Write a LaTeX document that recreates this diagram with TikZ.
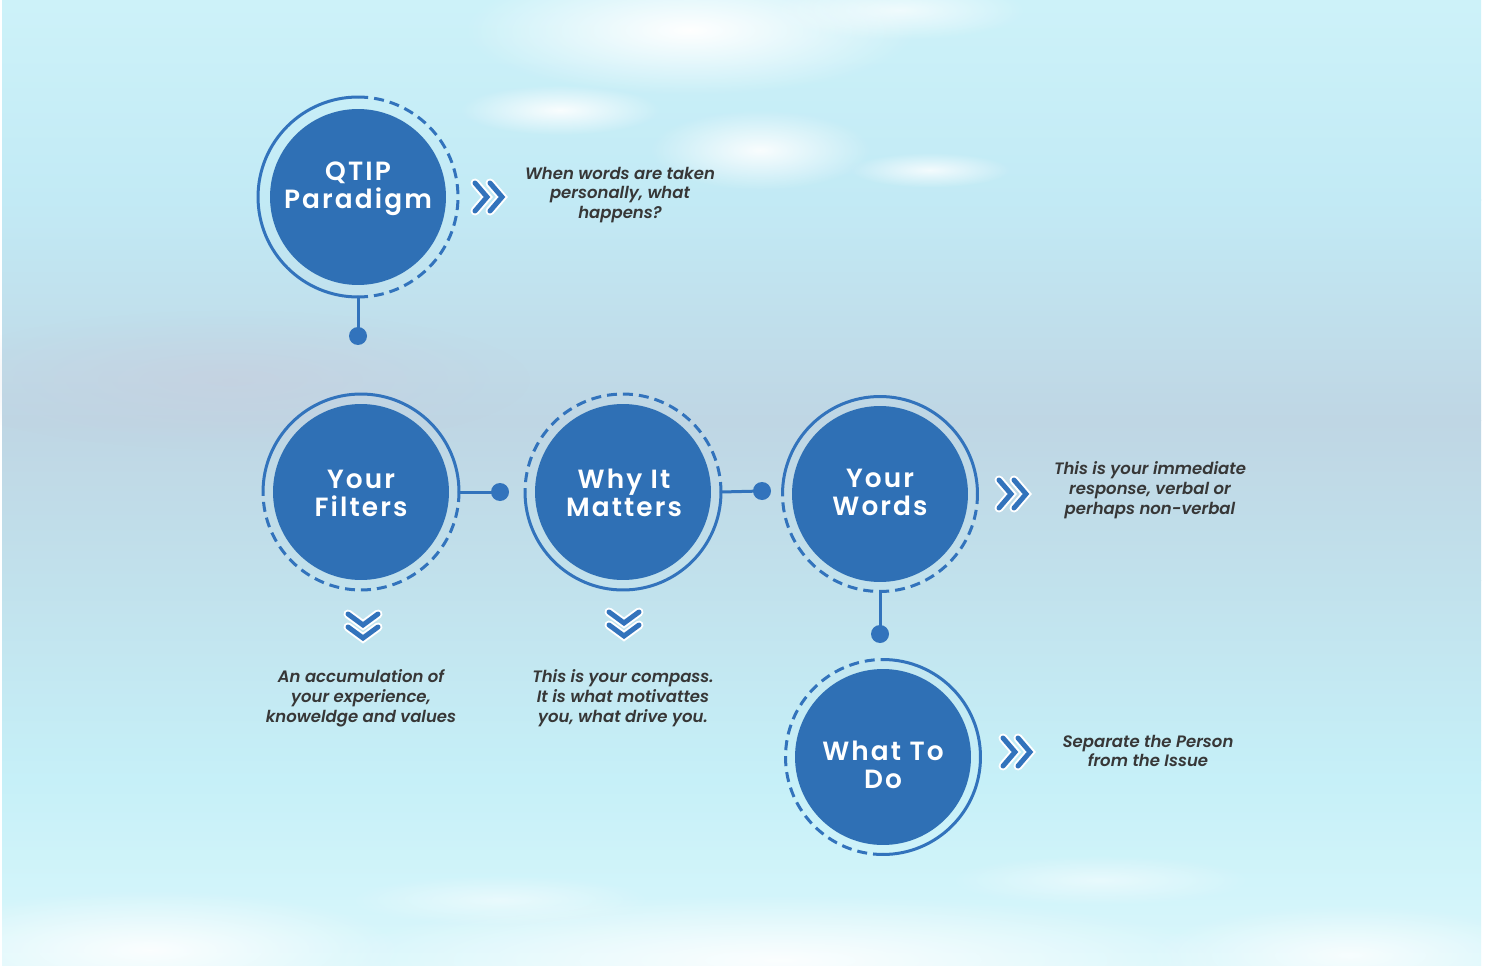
\documentclass[tikz,border=0pt]{standalone}
\usepackage{fontspec}
\setmainfont{Poppins}
\newfontfamily\descfont{Poppins SemiBold Italic}
\newfontfamily\circfont{Poppins SemiBold}[LetterSpace=8]
\usetikzlibrary{calc,fadings}
\definecolor{discblue}{RGB}{47,112,181}
\definecolor{ringblue}{RGB}{50,115,188}
\definecolor{txt}{RGB}{55,55,55}
\definecolor{bgA}{RGB}{205,242,249}
\definecolor{bgB}{RGB}{194,234,245}
\definecolor{bgC}{RGB}{191,214,228}
\definecolor{bgD}{RGB}{193,225,236}
\definecolor{bgE}{RGB}{198,240,248}
\definecolor{bgF}{RGB}{218,247,251}
\definecolor{pinkish}{RGB}{200,206,222}
\tikzfading[name=softblob, inner color=transparent!0, outer color=transparent!100]
\newcommand\mychevright[2]{%
  \foreach \dx in {-15,0}{%
    \draw[chevout] (#1+\dx,#2-14) -- (#1+\dx+12,#2) -- (#1+\dx,#2+14);
    \draw[chevin] (#1+\dx,#2-14) -- (#1+\dx+12,#2) -- (#1+\dx,#2+14);}}
\newcommand\mychevdown[2]{%
  \foreach \dy in {-13,0}{%
    \draw[chevout] (#1-15,#2+\dy) -- (#1,#2+\dy+11) -- (#1+15,#2+\dy);
    \draw[chevin] (#1-15,#2+\dy) -- (#1,#2+\dy+11) -- (#1+15,#2+\dy);}}
\begin{document}
\begin{tikzpicture}[x=0.02cm,y=-0.02cm,
  disc/.style={circle, fill=discblue, minimum size=3.52cm, inner sep=0pt, outer sep=0pt},
  ringnode/.style={circle, minimum size=#1, inner sep=0pt, outer sep=0pt},
  solidring/.style={draw=ringblue, line width=0.06cm},
  dashring/.style={draw=ringblue, line width=0.06cm, dash pattern=on 0.2cm off 0.12cm},
  conn/.style={draw=ringblue, line width=0.06cm},
  dot/.style={circle, fill=ringblue, minimum size=0.36cm, inner sep=0pt},
  ctext/.style={text=white, align=center, font=\circfont\fontsize{15pt}{15.9pt}\selectfont},
  desc/.style={font=\descfont\fontsize{9.4pt}{11.3pt}\selectfont, text=txt, align=center},
  chevout/.style={draw=white, line width=0.18cm, line cap=round, line join=miter},
  chevin/.style={draw=ringblue, line width=0.1cm, line cap=round, line join=miter},
  blob/.style={fill=white, path fading=softblob},
]
\useasboundingbox (0,0) rectangle (1490,966);
\fill[white] (0,0) rectangle (1490,966);
% background bands
\shade[top color=bgA, bottom color=bgB] (2,0) rectangle (1481,200.5);
\shade[top color=bgB, bottom color=bgC] (2,200) rectangle (1481,420.5);
\shade[top color=bgC, bottom color=bgD] (2,420) rectangle (1481,580.5);
\shade[top color=bgD, bottom color=bgE] (2,580) rectangle (1481,780.5);
\shade[top color=bgE, bottom color=bgF] (2,780) rectangle (1481,966);
% soft light patches
\fill[pinkish, path fading=softblob, opacity=0.6] (230,380) ellipse [x radius=6cm, y radius=1.4cm];
\fill[blob] (690,30) ellipse [x radius=4.5cm, y radius=1.3cm];
\fill[blob, opacity=0.9] (560,110) ellipse [x radius=2cm, y radius=0.5cm];
\fill[blob, opacity=0.9] (760,150) ellipse [x radius=2.2cm, y radius=0.8cm];
\fill[blob, opacity=0.8] (930,170) ellipse [x radius=1.6cm, y radius=0.35cm];
\fill[blob, opacity=0.7] (900,10) ellipse [x radius=2.5cm, y radius=0.6cm];
\fill[blob, opacity=0.9] (150,950) ellipse [x radius=5cm, y radius=1.2cm];
\fill[blob, opacity=0.9] (780,960) ellipse [x radius=9cm, y radius=1.3cm];
\fill[blob, opacity=0.8] (1350,955) ellipse [x radius=4cm, y radius=1cm];
\fill[blob, opacity=0.5] (500,900) ellipse [x radius=3cm, y radius=0.5cm];
\fill[blob, opacity=0.5] (1100,880) ellipse [x radius=3cm, y radius=0.5cm];

% circles
\node[disc] (qtip) at (358,197) {};
\node[ringnode=4cm] (qtipR) at (358,197) {};
\node[disc] (filt) at (361,492) {};
\node[ringnode=3.92cm] (filtR) at (361,492) {};
\node[disc] (why) at (623,492) {};
\node[ringnode=3.92cm] (whyR) at (623,492) {};
\node[disc] (words) at (880,494) {};
\node[ringnode=3.9cm] (wordsR) at (880,494) {};
\node[disc] (todo) at (883,757) {};
\node[ringnode=3.9cm] (todoR) at (883,757) {};

% rings
\draw[solidring] (qtipR.north) arc[start angle=90, end angle=270, radius=2cm];
\draw[dashring] (qtipR.south) arc[start angle=-90, end angle=90, radius=2cm];
\draw[solidring] (filtR.west) arc[start angle=180, end angle=0, radius=1.96cm];
\draw[dashring] (filtR.east) arc[start angle=0, end angle=-180, radius=1.96cm];
\draw[solidring] (whyR.west) arc[start angle=180, end angle=360, radius=1.96cm];
\draw[dashring] (whyR.east) arc[start angle=0, end angle=180, radius=1.96cm];
\draw[solidring] (wordsR.west) arc[start angle=180, end angle=0, radius=1.95cm];
\draw[dashring] (wordsR.east) arc[start angle=0, end angle=-180, radius=1.95cm];
\draw[solidring] (todoR.north) arc[start angle=90, end angle=-90, radius=1.95cm];
\draw[dashring] (todoR.south) arc[start angle=270, end angle=90, radius=1.95cm];

% circle texts
\node[ctext] (qtipT) at (358,189) {QTIP\\Paradigm};
\node[ctext] (filtT) at (361,493) {Your\\Filters};
\node[ctext] (whyT) at (624,493) {Why It\\Matters};
\node[ctext] (wordsT) at (880,492) {Your\\Words};
\node[ctext] (todoT) at (883,765) {What To\\Do};

% connectors
\node[dot] (d1) at (358,336) {};
\node[dot] (d2) at (500,492) {};
\node[dot] (d3) at (762,491) {};
\node[dot] (d4) at (880,634) {};
\draw[conn] (qtipR.south) -- (d1.center);
\draw[conn] (filtR.east) -- (d2.center);
\draw[conn] (whyR.east) -- (d3.center);
\draw[conn] (wordsR.south) -- (d4.center);

% chevrons
\mychevright{490}{197}
\mychevright{1014}{494}
\mychevright{1018}{752}
\mychevdown{363}{627}
\mychevdown{624}{625}

% descriptions
\node[desc] (t1) at (620,195) {When words are taken\\personally, what\\happens?};
\node[desc] (t2) at (1150,490) {This is your immediate\\response, verbal or\\perhaps non-verbal};
\node[desc] (t3) at (1148,751) {Separate the Person\\from the Issue};
\node[desc] (t4) at (361,698) {An accumulation of\\your experience,\\knoweldge and values};
\node[desc] (t5) at (623,698) {This is your compass.\\It is what motivattes\\you, what drive you.};
\end{tikzpicture}
\end{document}
